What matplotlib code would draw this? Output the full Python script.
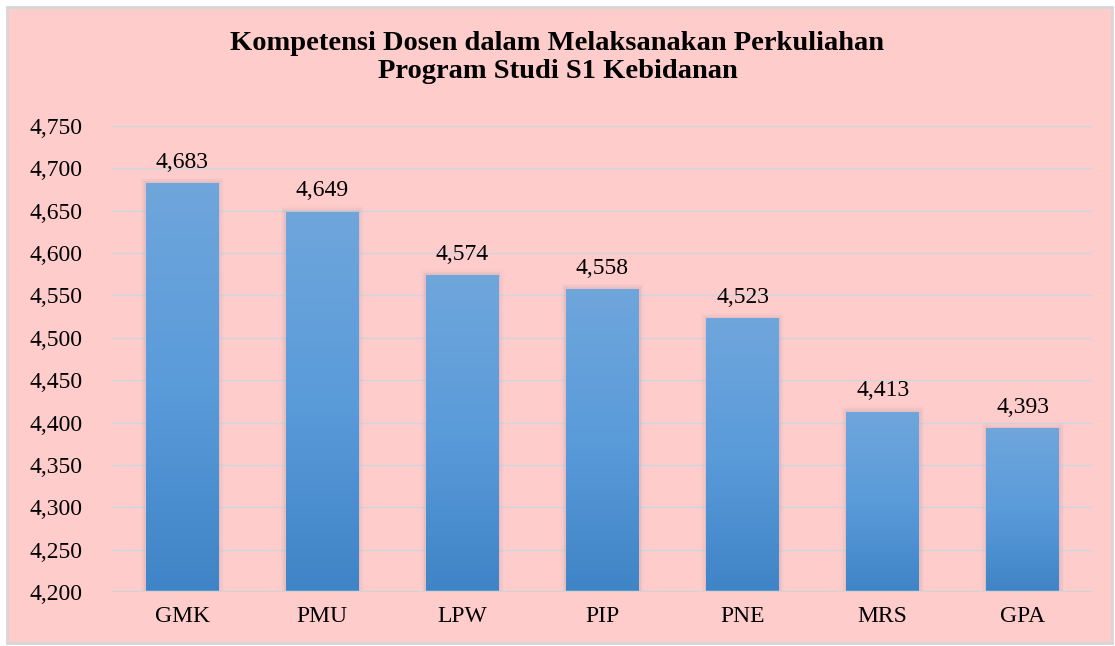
import numpy as np
import matplotlib.pyplot as plt
from matplotlib.patches import Rectangle
from matplotlib.colors import LinearSegmentedColormap

# data
categories = ['GMK', 'PMU', 'LPW', 'PIP', 'PNE', 'MRS', 'GPA']
values = [4.683, 4.649, 4.574, 4.558, 4.523, 4.413, 4.393]
y_ticks = [4.20, 4.25, 4.30, 4.35, 4.40, 4.45, 4.50, 4.55, 4.60, 4.65, 4.70, 4.75]

plt.rcParams['font.family'] = ['Liberation Serif', 'DejaVu Serif']

fig = plt.figure(figsize=(11.15, 6.46), dpi=100)
fig.patch.set_facecolor('white')
# pink chart area with gray frame
fig.patches.append(Rectangle((7 / 1115, 3 / 646), 1105 / 1115, 636 / 646,
                             transform=fig.transFigure, facecolor='#FFCCCC',
                             edgecolor='#D6D6D6', linewidth=2, zorder=-10))

ax = fig.add_axes([112 / 1115, 1 - 592 / 646, 981 / 1115, 466 / 646])
ax.set_facecolor('none')

ax.set_yticks(y_ticks)
ax.set_yticklabels([f'{t:.3f}'.replace('.', ',') for t in y_ticks], fontsize=17)
ax.set_xticks(range(len(categories)))
ax.set_xticklabels(categories, fontsize=17)
ax.tick_params(length=0, pad=21)
ax.tick_params(axis='x', pad=10)

for s in ax.spines.values():
    s.set_visible(False)
for t in y_ticks[1:]:
    ax.axhline(t, color='#CFD6DC', linewidth=1, zorder=1)
ax.axhline(4.2, color='#D2D2D2', linewidth=2.5, zorder=4)

cmap = LinearSegmentedColormap.from_list('bar', ['#3F84C6', '#5A9BDA', '#6FA6DC'])
grad = np.linspace(0, 1, 256).reshape(-1, 1)
width = 0.52
for i, v in enumerate(values):
    # soft shadow
    for k, a in enumerate([0.10, 0.07, 0.04]):
        d = 0.012 * (k + 1)
        ax.add_patch(Rectangle((i - width / 2 - d, 4.2), width + 2 * d,
                               v - 4.2 + 0.002 * (k + 1), facecolor='#8A8AA0',
                               alpha=a, edgecolor='none', zorder=2))
    bar = Rectangle((i - width / 2, 4.2), width, v - 4.2, facecolor='none',
                    edgecolor='none', zorder=3)
    ax.add_patch(bar)
    im = ax.imshow(grad, cmap=cmap, aspect='auto', origin='lower',
                   extent=(i - width / 2, i + width / 2, 4.2, v), zorder=3)
    im.set_clip_path(bar)
    ax.text(i, v + 0.012, f'{v:.3f}'.replace('.', ','), ha='center',
            va='bottom', fontsize=17)

ax.set_xlim(-0.5, len(categories) - 0.5)
ax.set_ylim(4.2, 4.75)

fig.text(0.5, 1 - 43 / 646, 'Kompetensi Dosen dalam Melaksanakan Perkuliahan',
         ha='center', va='center', fontsize=20.5, fontweight='bold')
fig.text(0.5, 1 - 72 / 646, 'Program Studi S1 Kebidanan',
         ha='center', va='center', fontsize=20.5, fontweight='bold')

fig.savefig('out.png', dpi=100, facecolor=fig.get_facecolor())
